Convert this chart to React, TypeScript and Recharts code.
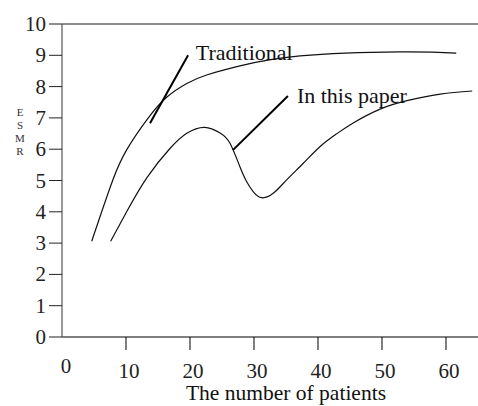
import { LineChart, Line, XAxis, YAxis, ReferenceLine, ReferenceDot } from 'recharts';

const traditional = [
  { x: 4.64, y: 3.06 },
  { x: 6.2, y: 4.0 },
  { x: 8.0, y: 5.05 },
  { x: 10.1, y: 5.98 },
  { x: 13.4, y: 6.98 },
  { x: 16.35, y: 7.66 },
  { x: 19.5, y: 8.1 },
  { x: 22.6, y: 8.37 },
  { x: 27.8, y: 8.66 },
  { x: 37.2, y: 8.98 },
  { x: 52.8, y: 9.11 },
  { x: 61.6, y: 9.07 },
];

const inThisPaper = [
  { x: 7.6, y: 3.06 },
  { x: 10.1, y: 4.0 },
  { x: 13.3, y: 5.1 },
  { x: 16.9, y: 6.03 },
  { x: 19.5, y: 6.51 },
  { x: 22.3, y: 6.7 },
  { x: 24.7, y: 6.52 },
  { x: 26.25, y: 6.19 },
  { x: 27.8, y: 5.44 },
  { x: 28.86, y: 4.96 },
  { x: 29.9, y: 4.64 },
  { x: 31.2, y: 4.45 },
  { x: 33.0, y: 4.59 },
  { x: 35.1, y: 5.02 },
  { x: 37.7, y: 5.55 },
  { x: 40.3, y: 6.08 },
  { x: 42.9, y: 6.49 },
  { x: 45.5, y: 6.84 },
  { x: 49.7, y: 7.28 },
  { x: 53.9, y: 7.55 },
  { x: 59.1, y: 7.76 },
  { x: 64.1, y: 7.86 },
];

const xTicks = [0, 10, 20, 30, 40, 50, 60];
const yTicks = [0, 1, 2, 3, 4, 5, 6, 7, 8, 9, 10];
const yTitle = ['E', 'S', 'M', 'R'];

// annotation pointers: [from, to] and where the text starts
const tradPointer = [{ x: 13.75, y: 6.83 }, { x: 19.7, y: 9.0 }];
const paperPointer = [{ x: 26.7, y: 5.97 }, { x: 35.3, y: 7.7 }];
const tradLabel = { x: 20.9, y: 8.85, text: 'Traditional' };
const paperLabel = { x: 36.7, y: 7.47, text: 'In this paper' };

const FONT = "'Liberation Serif', 'Times New Roman', 'DejaVu Serif', serif";

const XTick = (props: any) => {
  const { x, y, payload } = props;
  const zero = payload.value === 0;
  return (
    <g>
      {!zero && <line x1={x} x2={x} y1={y - 13} y2={y} stroke="#000" strokeWidth={1} />}
      <text
        x={zero ? x + 4 : x + 3}
        y={zero ? y + 23 : y + 28}
        textAnchor="middle"
        style={{ fontFamily: FONT, fontSize: 21 }}
        fill="#222"
      >
        {payload.value}
      </text>
    </g>
  );
};

const YTick = (props: any) => {
  const { x, y, payload } = props;
  return (
    <text x={x} y={y + 7} textAnchor="end" style={{ fontFamily: FONT, fontSize: 21 }} fill="#222">
      {payload.value}
    </text>
  );
};

// stacked letters of the y title
const YLabel = (props: any) => {
  const vb = props.viewBox;
  const cx = vb.x + 20;
  return (
    <g fill="#333" textAnchor="middle">
      {yTitle.map((ch, i) => (
        <text key={ch} x={cx} y={vb.y + 92 + i * 13} style={{ fontFamily: FONT, fontSize: 11 }}>
          {ch}
        </text>
      ))}
    </g>
  );
};

const XLabel = (props: any) => {
  const vb = props.viewBox;
  return (
    <text
      x={vb.x + vb.width / 2 + 16}
      y={vb.y + 63}
      textAnchor="middle"
      style={{ fontFamily: FONT, fontSize: 21.5 }}
      fill="#111"
    >
      The number of patients
    </text>
  );
};

const noteText = (text: string) => (props: any) => {
  const vb = props.viewBox;
  return (
    <text x={vb.x} y={vb.y} style={{ fontFamily: FONT, fontSize: 22 }} fill="#111">
      {text}
    </text>
  );
};

export default function App() {
  return (
    <div style={{ position: 'absolute', left: 0, top: 0, background: '#fff' }}>
      <LineChart width={478} height={406} margin={{ top: 24, right: 0, left: 0, bottom: 29 }}>
        <XAxis
          type="number"
          dataKey="x"
          domain={[0, 65]}
          ticks={xTicks}
          allowDataOverflow
          height={40}
          tickSize={13}
          tickMargin={0}
          tickLine={false}
          tick={<XTick />}
          axisLine={{ stroke: '#000', strokeWidth: 1.2 }}
          label={{ content: <XLabel /> }}
        />
        <YAxis
          type="number"
          domain={[0, 10]}
          ticks={yTicks}
          width={62}
          tickSize={13}
          tickMargin={3}
          tickLine={{ stroke: '#222' }}
          axisLine={{ stroke: '#555', strokeWidth: 1.2 }}
          tick={<YTick />}
          label={{ content: <YLabel /> }}
        />
        <ReferenceLine y={10} stroke="#666" strokeWidth={1.5} />
        <Line
          data={traditional}
          dataKey="y"
          type="natural"
          stroke="#111"
          strokeWidth={1.2}
          dot={false}
          isAnimationActive={false}
        />
        <Line
          data={inThisPaper}
          dataKey="y"
          type="natural"
          stroke="#111"
          strokeWidth={1.2}
          dot={false}
          isAnimationActive={false}
        />
        <ReferenceLine segment={tradPointer} stroke="#000" strokeWidth={2} />
        <ReferenceLine segment={paperPointer} stroke="#000" strokeWidth={2} />
        <ReferenceDot x={tradLabel.x} y={tradLabel.y} r={0} stroke="none" label={{ content: noteText(tradLabel.text) }} />
        <ReferenceDot x={paperLabel.x} y={paperLabel.y} r={0} stroke="none" label={{ content: noteText(paperLabel.text) }} />
      </LineChart>
    </div>
  );
}
